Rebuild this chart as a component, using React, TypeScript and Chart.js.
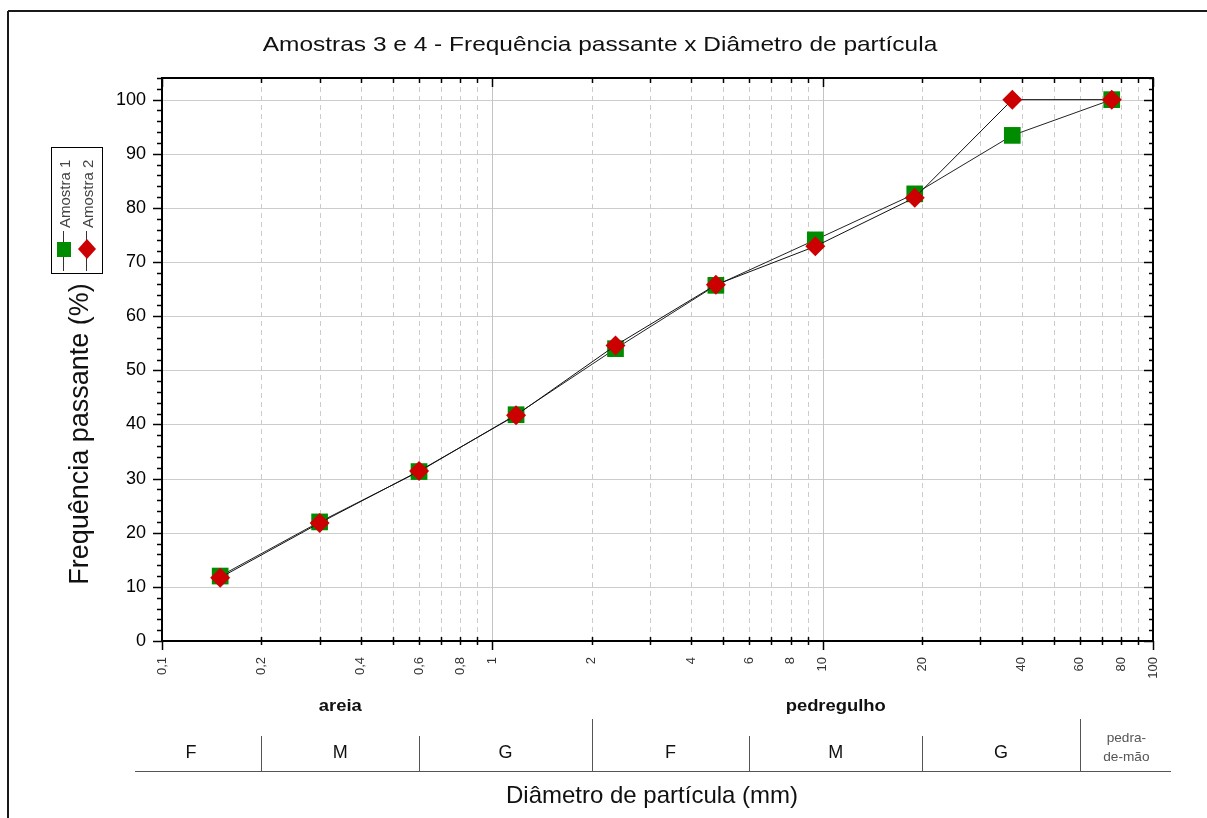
import React, { useEffect, useRef } from "react";
import { Chart, registerables } from "chart.js";

Chart.register(...registerables);

const FONT = "'Liberation Sans', Arial, sans-serif";

// Diâmetros das peneiras (mm)
const diametros = [0.15, 0.3, 0.6, 1.18, 2.36, 4.75, 9.5, 19, 37.5, 75];
// Frequência passante (%)
const amostra1 = [12.0, 22.0, 31.3, 41.8, 54.0, 65.7, 74.1, 82.6, 93.4, 100];
const amostra2 = [11.7, 21.8, 31.4, 41.7, 54.6, 65.8, 72.9, 81.9, 100, 100];

const xTickValues = [
  0.1, 0.2, 0.3, 0.4, 0.5, 0.6, 0.7, 0.8, 0.9,
  1, 2, 3, 4, 5, 6, 7, 8, 9,
  10, 20, 30, 40, 50, 60, 70, 80, 90, 100,
];
const xLabeledValues = [0.1, 0.2, 0.4, 0.6, 0.8, 1, 2, 4, 6, 8, 10, 20, 40, 60, 80, 100];
const xTickLabels = ["0,1", "0,2", "0,4", "0,6", "0,8", "1", "2", "4", "6", "8", "10", "20", "40", "60", "80", "100"];
const yTickValues = [0, 10, 20, 30, 40, 50, 60, 70, 80, 90, 100];

// Classificação granulométrica
const classBounds = [0.075, 0.2, 0.6, 2, 6, 20, 60, 115];
const classLabels = ["F", "M", "G", "F", "M", "G"];
const tallBounds = [2, 60];
const groupNames = ["areia", "pedregulho"];
const groupRanges = [[0.06, 2], [2, 60]];

const titleText = "Amostras 3 e 4 - Frequência passante x Diâmetro de partícula";
const yTitle = "Frequência passante (%)";
const xTitle = "Diâmetro de partícula (mm)";
const seriesNames = ["Amostra 1", "Amostra 2"];

function drawText(
  ctx: CanvasRenderingContext2D,
  s: string,
  x: number,
  y: number,
  font: string,
  color: string,
  align: CanvasTextAlign = "center",
  rot = 0,
  sx = 1
) {
  ctx.save();
  ctx.translate(x, y);
  if (rot) ctx.rotate(rot);
  ctx.scale(sx, 1);
  ctx.font = font;
  ctx.fillStyle = color;
  ctx.textAlign = align;
  ctx.textBaseline = "middle";
  ctx.fillText(s, 0, 0);
  ctx.restore();
}

function seg(ctx: CanvasRenderingContext2D, x1: number, y1: number, x2: number, y2: number) {
  ctx.beginPath();
  ctx.moveTo(x1, y1);
  ctx.lineTo(x2, y2);
  ctx.stroke();
}

const decor = {
  id: "decor",
  beforeDatasetsDraw(chart: any) {
    const { ctx, chartArea: a, scales } = chart;
    const x = scales.x;
    const y = scales.y;
    ctx.save();
    ctx.lineWidth = 1;
    ctx.strokeStyle = "#cdcdcd";
    yTickValues.forEach((v) => {
      if (v === 0) return;
      const py = Math.round(y.getPixelForValue(v)) + 0.5;
      seg(ctx, a.left, py, a.right, py);
    });
    xTickValues.forEach((v) => {
      if (v === 0.1 || v === 100) return;
      const px = Math.round(x.getPixelForValue(v)) + 0.5;
      if (v === 1 || v === 10) {
        ctx.setLineDash([]);
        ctx.strokeStyle = "#c4c4c4";
      } else {
        ctx.setLineDash([5, 4]);
        ctx.strokeStyle = "#cccccc";
      }
      seg(ctx, px, a.top, px, a.bottom);
    });
    ctx.restore();
  },
  afterDraw(chart: any) {
    const { ctx, chartArea: a, scales } = chart;
    const x = scales.x;
    const y = scales.y;
    ctx.save();

    // outer frame
    ctx.strokeStyle = "#1a1a1a";
    ctx.lineWidth = 2;
    seg(ctx, 8, 11, 1207, 11);
    seg(ctx, 8, 11, 8, 818);

    // plot frame
    ctx.strokeStyle = "#000";
    ctx.lineWidth = 2;
    ctx.strokeRect(a.left, a.top, a.right - a.left, a.bottom - a.top);

    // y ticks
    ctx.lineWidth = 1.5;
    for (let v = 0; v <= 104; v += 2) {
      const py = Math.round(y.getPixelForValue(v)) + 0.5;
      if (v % 10 === 0) {
        seg(ctx, a.left - 9, py, a.left, py);
        seg(ctx, a.right - 9, py, a.right, py);
      } else {
        seg(ctx, a.left - 5, py, a.left, py);
        seg(ctx, a.right - 4, py, a.right, py);
      }
    }
    // x ticks
    xTickValues.forEach((v) => {
      const px = Math.round(x.getPixelForValue(v)) + 0.5;
      if (v === 1 || v === 10 || v === 0.1 || v === 100) {
        seg(ctx, px, a.bottom, px, a.bottom + 9);
        seg(ctx, px, a.top, px, a.top + 9);
      } else {
        seg(ctx, px, a.bottom - 4, px, a.bottom + 4);
        seg(ctx, px, a.top, px, a.top + 5);
      }
    });

    // title
    drawText(ctx, titleText, 600, 45, `21px ${FONT}`, "#111", "center", 0, 1.165);
    // axis titles
    drawText(ctx, yTitle, 81, 434, `27px ${FONT}`, "#111", "center", -Math.PI / 2);
    drawText(ctx, xTitle, 652, 796, `24px ${FONT}`, "#111", "center");

    // legend
    ctx.lineWidth = 1;
    ctx.strokeStyle = "#000";
    ctx.strokeRect(51.5, 147.5, 51, 126);
    ctx.strokeStyle = "#333";
    seg(ctx, 63.5, 231, 63.5, 271);
    seg(ctx, 86.5, 231, 86.5, 271);
    ctx.fillStyle = "#008c00";
    ctx.fillRect(57, 242, 14, 15);
    ctx.fillStyle = "#cc0000";
    ctx.beginPath();
    ctx.moveTo(87, 239);
    ctx.lineTo(96, 249);
    ctx.lineTo(87, 259);
    ctx.lineTo(78, 249);
    ctx.closePath();
    ctx.fill();
    drawText(ctx, seriesNames[0], 66, 228, `15px ${FONT}`, "#444", "left", -Math.PI / 2);
    drawText(ctx, seriesNames[1], 89, 228, `15px ${FONT}`, "#444", "left", -Math.PI / 2);

    // classification table
    const px = (v: number) => x.getPixelForValue(v);
    ctx.strokeStyle = "#555";
    ctx.lineWidth = 1;
    seg(ctx, 135, 771.5, 1171, 771.5);
    classBounds.slice(1, -1).forEach((b) => {
      const bx = Math.round(px(b)) + 0.5;
      const top = tallBounds.includes(b) ? 719 : 736;
      seg(ctx, bx, top, bx, 771);
    });
    classLabels.forEach((lab, i) => {
      const cx = (px(classBounds[i]) + px(classBounds[i + 1])) / 2;
      drawText(ctx, lab, cx, 753, `18px ${FONT}`, "#111", "center");
    });
    const lastX = (px(classBounds[6]) + px(classBounds[7])) / 2;
    drawText(ctx, "pedra-", lastX, 738, `13px ${FONT}`, "#555", "center", 0, 1.05);
    drawText(ctx, "de-mão", lastX, 757, `13px ${FONT}`, "#555", "center", 0, 1.05);
    groupNames.forEach((g, i) => {
      const cx = (px(groupRanges[i][0]) + px(groupRanges[i][1])) / 2;
      drawText(ctx, g, cx, 707, `bold 16px ${FONT}`, "#111", "center", 0, 1.15);
    });

    ctx.restore();
  },
};

export default function App() {
  const ref = useRef<HTMLCanvasElement | null>(null);
  useEffect(() => {
    if (!ref.current) return;
    const chart = new Chart(ref.current, {
      type: "line",
      data: {
        datasets: [
          {
            label: seriesNames[0],
            data: diametros.map((d, i) => ({ x: d, y: amostra1[i] })),
            borderColor: "#222",
            borderWidth: 1,
            pointStyle: "rect",
            pointRadius: 11.8,
            pointBackgroundColor: "#008c00",
            pointBorderColor: "#008c00",
            pointBorderWidth: 0,
            tension: 0,
            order: 2,
          },
          {
            label: seriesNames[1],
            data: diametros.map((d, i) => ({ x: d, y: amostra2[i] })),
            borderColor: "#111",
            borderWidth: 1,
            pointStyle: "rectRot",
            pointRadius: 10,
            pointBackgroundColor: "#cc0000",
            pointBorderColor: "#cc0000",
            pointBorderWidth: 0,
            tension: 0,
            order: 1,
          },
        ],
      },
      options: {
        animation: false,
        responsive: true,
        maintainAspectRatio: false,
        devicePixelRatio: 1,
        layout: { padding: { top: 78, right: 54, left: 0, bottom: 0 } },
        plugins: {
          legend: { display: false },
          title: { display: false },
          tooltip: { enabled: false },
        },
        scales: {
          x: {
            type: "logarithmic",
            min: 0.1,
            max: 100,
            afterBuildTicks: (s: any) => {
              s.ticks = xTickValues.map((v) => ({ value: v }));
            },
            afterFit: (s: any) => {
              s.height = 177;
            },
            grid: { display: false, drawTicks: false },
            border: { display: false },
            ticks: {
              autoSkip: false,
              minRotation: 90,
              maxRotation: 90,
              padding: 16,
              color: "#333",
              font: { family: FONT, size: 13 },
              callback: (v: any) => {
                const i = xLabeledValues.findIndex((t) => Math.abs(t - Number(v)) < 1e-9);
                return i >= 0 ? xTickLabels[i] : "";
              },
            },
          },
          y: {
            type: "linear",
            min: 0,
            max: 104,
            afterBuildTicks: (s: any) => {
              s.ticks = yTickValues.map((v) => ({ value: v }));
            },
            afterFit: (s: any) => {
              s.width = 162;
            },
            grid: { display: false, drawTicks: false },
            border: { display: false },
            ticks: {
              padding: 16,
              color: "#000",
              font: { family: FONT, size: 18 },
            },
          },
        },
      },
      plugins: [decor],
    });
    return () => chart.destroy();
  }, []);
  return (
    <div style={{ position: "fixed", left: 0, top: 0, width: 1207, height: 818, background: "#fff" }}>
      <canvas ref={ref} />
    </div>
  );
}
